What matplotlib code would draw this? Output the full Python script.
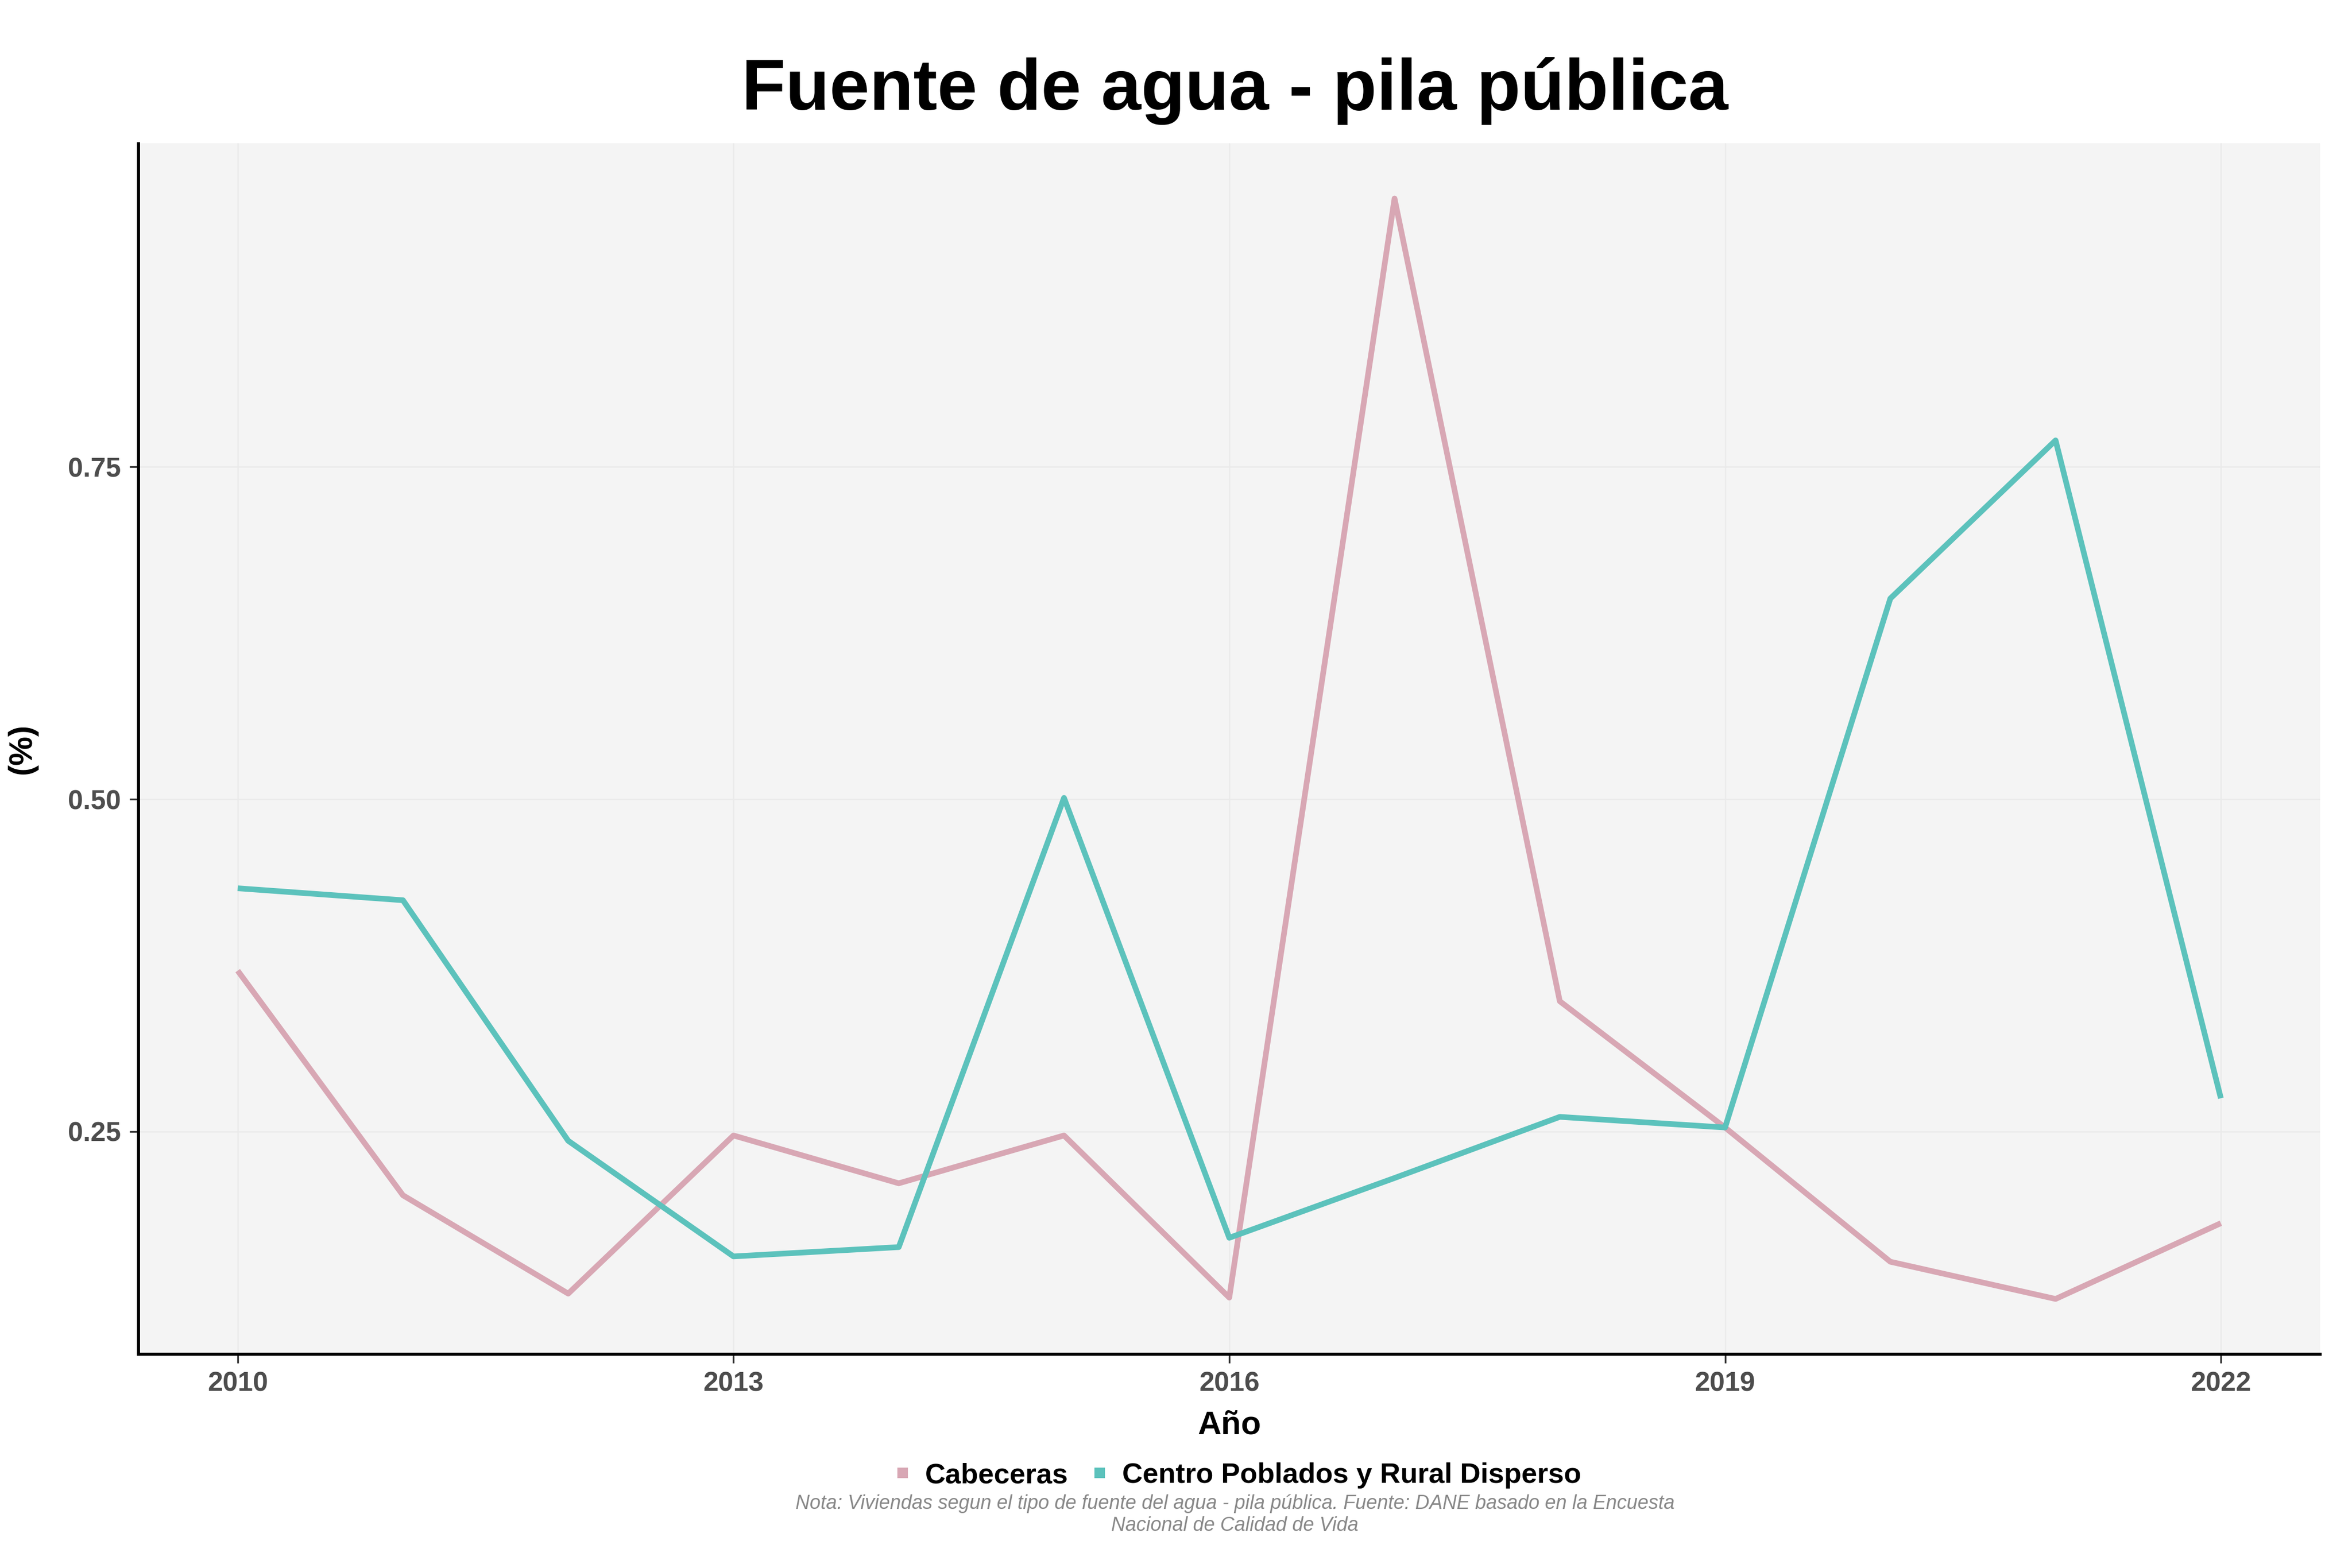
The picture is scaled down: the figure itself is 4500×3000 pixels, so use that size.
import numpy as np
import matplotlib
matplotlib.use("Agg")
import matplotlib.pyplot as plt
from matplotlib.lines import Line2D

plt.rcParams['font.family'] = ['Liberation Sans', 'DejaVu Sans']

# -----------------------------------------------------------------------------
# data
# -----------------------------------------------------------------------------
years = [2010, 2011, 2012, 2013, 2014, 2015, 2016, 2017, 2018, 2019, 2020, 2021, 2022]
cabeceras = [0.371, 0.202, 0.128, 0.247, 0.211, 0.247, 0.125, 0.952, 0.348, 0.253, 0.152, 0.124, 0.181]
centro_rural = [0.433, 0.424, 0.243, 0.156, 0.163, 0.501, 0.170, 0.215, 0.261, 0.253, 0.651, 0.770, 0.275]

series_names = ["Cabeceras", "Centro Poblados y Rural Disperso"]
colors = ["#D8A7B4", "#5CC2BC"]

x_ticks = [2010, 2013, 2016, 2019, 2022]
y_ticks = [0.25, 0.50, 0.75]

title = "Fuente de agua - pila pública"
caption = ("Nota: Viviendas segun el tipo de fuente del agua - pila pública. Fuente: DANE basado en la Encuesta\n"
           "Nacional de Calidad de Vida")

# -----------------------------------------------------------------------------
# plot
# -----------------------------------------------------------------------------
fig = plt.figure(figsize=(15, 10), dpi=300)
ax = fig.add_axes([0.0589, 0.1365, 0.9275, 0.772])
ax.set_facecolor("#F4F4F4")

for vals, c in zip([cabeceras, centro_rural], colors):
    ax.plot(years, vals, color=c, lw=2.6, solid_capstyle='butt', zorder=3)

all_vals = cabeceras + centro_rural
lo, hi = min(all_vals), max(all_vals)
pad = (hi - lo) * 0.05
ax.set_ylim(lo - pad, hi + pad)
ax.set_xlim(2010 - 0.6, 2022 + 0.6)

ax.set_xticks(x_ticks)
ax.set_xticklabels([str(t) for t in x_ticks])
ax.set_yticks(y_ticks)
ax.set_yticklabels([f"{t:.2f}" for t in y_ticks])
ax.grid(True, color="#EAEAEA", lw=0.6, zorder=0)
ax.set_axisbelow(True)

for s in ['top', 'right']:
    ax.spines[s].set_visible(False)
for s in ['left', 'bottom']:
    ax.spines[s].set_color('black')
    ax.spines[s].set_linewidth(1.4)

ax.tick_params(axis='both', length=4, width=0.8, color='#333333',
               labelsize=12.5, labelcolor='#4D4D4D', pad=4)
for lab in ax.get_xticklabels() + ax.get_yticklabels():
    lab.set_fontweight('bold')

ax.set_xlabel("Año", fontsize=15, fontweight='bold', labelpad=6)
ax.set_ylabel("(%)", fontsize=15, fontweight='bold', labelpad=14)

fig.text(0.525, 0.942, title, ha='center', va='center', fontsize=33, fontweight='bold')

handles = [Line2D([], [], color=c, marker='s', ls='none', markersize=4) for c in colors]
fig.legend(handles, series_names, loc='center', bbox_to_anchor=(0.525, 0.059), ncol=2,
           frameon=False, prop={'size': 13, 'weight': 'bold'}, handletextpad=0.3,
           columnspacing=0.6, handlelength=1.0)

fig.text(0.525, 0.034, caption, ha='center', va='center', fontsize=9,
         style='italic', color='#888888', linespacing=1.2)

fig.savefig("out.png", dpi=300)
